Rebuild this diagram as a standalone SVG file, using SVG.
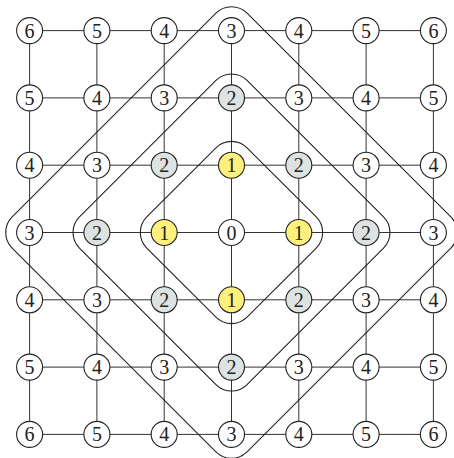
<svg xmlns="http://www.w3.org/2000/svg" width="454" height="458" viewBox="0 0 454 458">
<style>
.e{stroke:#333;stroke-width:1;fill:none}
.d{stroke:#222;stroke-width:1.1;fill:none}
.n circle{stroke:#222;stroke-width:1.1;fill:#fff}
.n.y circle{fill:#fdf07c}
.n.g circle{fill:#dde3e2}
.n text{font-family:'Liberation Serif','Times New Roman',serif;font-size:20px;fill:#222;text-anchor:middle}
</style>
<rect width="454" height="458" fill="#fff"/>
<g id="connectors" class="e">
<line x1="29.6" y1="30.6" x2="433.4" y2="30.6"/>
<line x1="29.6" y1="97.9" x2="433.4" y2="97.9"/>
<line x1="29.6" y1="165.2" x2="433.4" y2="165.2"/>
<line x1="29.6" y1="232.5" x2="433.4" y2="232.5"/>
<line x1="29.6" y1="299.8" x2="433.4" y2="299.8"/>
<line x1="29.6" y1="367.1" x2="433.4" y2="367.1"/>
<line x1="29.6" y1="434.4" x2="433.4" y2="434.4"/>
<line x1="29.6" y1="30.6" x2="29.6" y2="434.4"/>
<line x1="96.9" y1="30.6" x2="96.9" y2="434.4"/>
<line x1="164.2" y1="30.6" x2="164.2" y2="434.4"/>
<line x1="231.5" y1="30.6" x2="231.5" y2="434.4"/>
<line x1="298.8" y1="30.6" x2="298.8" y2="434.4"/>
<line x1="366.1" y1="30.6" x2="366.1" y2="434.4"/>
<line x1="433.4" y1="30.6" x2="433.4" y2="434.4"/>
</g>
<g id="regions" class="d" transform="translate(231.5 232.5) rotate(45)">
<rect id="ring1" x="-70.9" y="-70.9" width="141.8" height="141.8" rx="22"/>
<rect id="ring2" x="-118.5" y="-118.5" width="237" height="237" rx="22"/>
<rect id="ring3" x="-166.1" y="-166.1" width="332.2" height="332.2" rx="22"/>
</g>
<g id="nodes" font-family="'Liberation Serif', serif">
<g id="n00" class="n"><circle cx="29.6" cy="30.6" r="13"/><text x="29.6" y="37.6">6</text></g>
<g id="n10" class="n"><circle cx="96.9" cy="30.6" r="13"/><text x="96.9" y="37.6">5</text></g>
<g id="n20" class="n"><circle cx="164.2" cy="30.6" r="13"/><text x="164.2" y="37.6">4</text></g>
<g id="n30" class="n"><circle cx="231.5" cy="30.6" r="13"/><text x="231.5" y="37.6">3</text></g>
<g id="n40" class="n"><circle cx="298.8" cy="30.6" r="13"/><text x="298.8" y="37.6">4</text></g>
<g id="n50" class="n"><circle cx="366.1" cy="30.6" r="13"/><text x="366.1" y="37.6">5</text></g>
<g id="n60" class="n"><circle cx="433.4" cy="30.6" r="13"/><text x="433.4" y="37.6">6</text></g>

<g id="n01" class="n"><circle cx="29.6" cy="97.9" r="13"/><text x="29.6" y="104.9">5</text></g>
<g id="n11" class="n"><circle cx="96.9" cy="97.9" r="13"/><text x="96.9" y="104.9">4</text></g>
<g id="n21" class="n"><circle cx="164.2" cy="97.9" r="13"/><text x="164.2" y="104.9">3</text></g>
<g id="n31" class="n g"><circle cx="231.5" cy="97.9" r="13"/><text x="231.5" y="104.9">2</text></g>
<g id="n41" class="n"><circle cx="298.8" cy="97.9" r="13"/><text x="298.8" y="104.9">3</text></g>
<g id="n51" class="n"><circle cx="366.1" cy="97.9" r="13"/><text x="366.1" y="104.9">4</text></g>
<g id="n61" class="n"><circle cx="433.4" cy="97.9" r="13"/><text x="433.4" y="104.9">5</text></g>

<g id="n02" class="n"><circle cx="29.6" cy="165.2" r="13"/><text x="29.6" y="172.2">4</text></g>
<g id="n12" class="n"><circle cx="96.9" cy="165.2" r="13"/><text x="96.9" y="172.2">3</text></g>
<g id="n22" class="n g"><circle cx="164.2" cy="165.2" r="13"/><text x="164.2" y="172.2">2</text></g>
<g id="n32" class="n y"><circle cx="231.5" cy="165.2" r="13"/><text x="231.5" y="172.2">1</text></g>
<g id="n42" class="n g"><circle cx="298.8" cy="165.2" r="13"/><text x="298.8" y="172.2">2</text></g>
<g id="n52" class="n"><circle cx="366.1" cy="165.2" r="13"/><text x="366.1" y="172.2">3</text></g>
<g id="n62" class="n"><circle cx="433.4" cy="165.2" r="13"/><text x="433.4" y="172.2">4</text></g>

<g id="n03" class="n"><circle cx="29.6" cy="232.5" r="13"/><text x="29.6" y="239.5">3</text></g>
<g id="n13" class="n g"><circle cx="96.9" cy="232.5" r="13"/><text x="96.9" y="239.5">2</text></g>
<g id="n23" class="n y"><circle cx="164.2" cy="232.5" r="13"/><text x="164.2" y="239.5">1</text></g>
<g id="n33" class="n"><circle cx="231.5" cy="232.5" r="13"/><text x="231.5" y="239.5">0</text></g>
<g id="n43" class="n y"><circle cx="298.8" cy="232.5" r="13"/><text x="298.8" y="239.5">1</text></g>
<g id="n53" class="n g"><circle cx="366.1" cy="232.5" r="13"/><text x="366.1" y="239.5">2</text></g>
<g id="n63" class="n"><circle cx="433.4" cy="232.5" r="13"/><text x="433.4" y="239.5">3</text></g>

<g id="n04" class="n"><circle cx="29.6" cy="299.8" r="13"/><text x="29.6" y="306.8">4</text></g>
<g id="n14" class="n"><circle cx="96.9" cy="299.8" r="13"/><text x="96.9" y="306.8">3</text></g>
<g id="n24" class="n g"><circle cx="164.2" cy="299.8" r="13"/><text x="164.2" y="306.8">2</text></g>
<g id="n34" class="n y"><circle cx="231.5" cy="299.8" r="13"/><text x="231.5" y="306.8">1</text></g>
<g id="n44" class="n g"><circle cx="298.8" cy="299.8" r="13"/><text x="298.8" y="306.8">2</text></g>
<g id="n54" class="n"><circle cx="366.1" cy="299.8" r="13"/><text x="366.1" y="306.8">3</text></g>
<g id="n64" class="n"><circle cx="433.4" cy="299.8" r="13"/><text x="433.4" y="306.8">4</text></g>

<g id="n05" class="n"><circle cx="29.6" cy="367.1" r="13"/><text x="29.6" y="374.1">5</text></g>
<g id="n15" class="n"><circle cx="96.9" cy="367.1" r="13"/><text x="96.9" y="374.1">4</text></g>
<g id="n25" class="n"><circle cx="164.2" cy="367.1" r="13"/><text x="164.2" y="374.1">3</text></g>
<g id="n35" class="n g"><circle cx="231.5" cy="367.1" r="13"/><text x="231.5" y="374.1">2</text></g>
<g id="n45" class="n"><circle cx="298.8" cy="367.1" r="13"/><text x="298.8" y="374.1">3</text></g>
<g id="n55" class="n"><circle cx="366.1" cy="367.1" r="13"/><text x="366.1" y="374.1">4</text></g>
<g id="n65" class="n"><circle cx="433.4" cy="367.1" r="13"/><text x="433.4" y="374.1">5</text></g>

<g id="n06" class="n"><circle cx="29.6" cy="434.4" r="13"/><text x="29.6" y="441.4">6</text></g>
<g id="n16" class="n"><circle cx="96.9" cy="434.4" r="13"/><text x="96.9" y="441.4">5</text></g>
<g id="n26" class="n"><circle cx="164.2" cy="434.4" r="13"/><text x="164.2" y="441.4">4</text></g>
<g id="n36" class="n"><circle cx="231.5" cy="434.4" r="13"/><text x="231.5" y="441.4">3</text></g>
<g id="n46" class="n"><circle cx="298.8" cy="434.4" r="13"/><text x="298.8" y="441.4">4</text></g>
<g id="n56" class="n"><circle cx="366.1" cy="434.4" r="13"/><text x="366.1" y="441.4">5</text></g>
<g id="n66" class="n"><circle cx="433.4" cy="434.4" r="13"/><text x="433.4" y="441.4">6</text></g>
</g>
</svg>
